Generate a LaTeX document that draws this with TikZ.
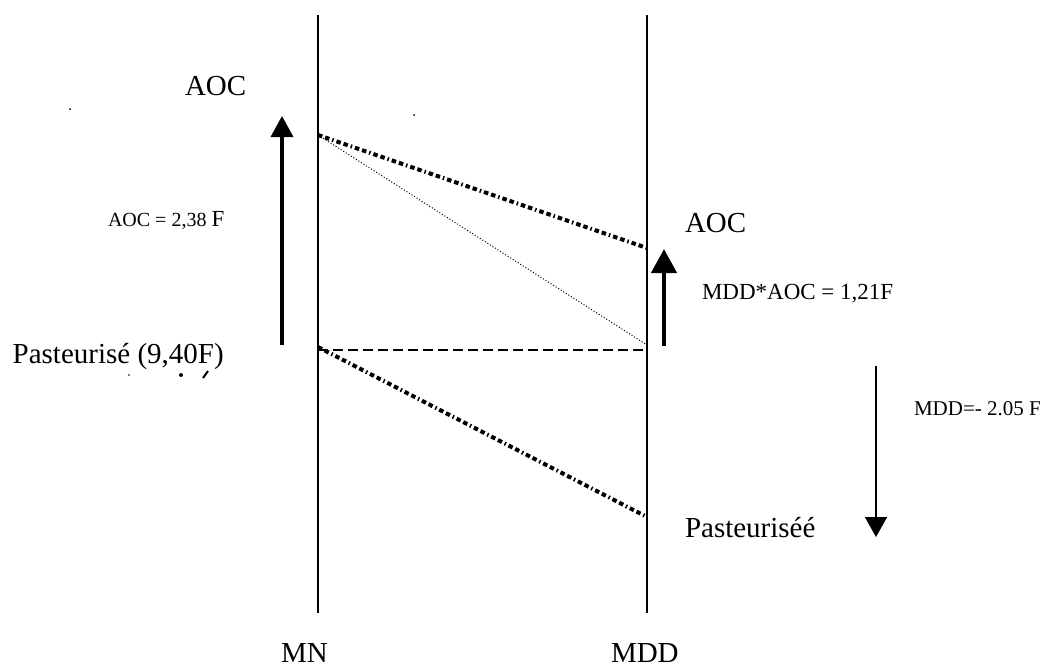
\documentclass[tikz,border=0pt]{standalone}
\usepackage{fontspec}
\setmainfont{Liberation Serif}
\usetikzlibrary{arrows.meta}
\tikzset{
  big/.style={inner sep=0pt, outer sep=0pt, anchor=base west, font=\fontsize{29}{32}\selectfont},
  small/.style={inner sep=0pt, outer sep=0pt, anchor=base west, font=\fontsize{21}{24}\selectfont},
  axis/.style={line width=1.3pt},
  dashdot/.style={line width=4pt, dash pattern=on 4.5pt off 3pt on 4.5pt off 3pt on 1.5pt off 3pt},
  thindot/.style={line width=1pt, dash pattern=on 1pt off 2pt},
  dashh/.style={line width=2.5pt, dash pattern=on 10pt off 5pt},
  fatarrow/.style={line width=3.5pt, -{Triangle[length=21pt,width=22pt]}},
  fatarrowb/.style={line width=4.5pt, -{Triangle[length=24pt,width=25pt]}},
  thinarrow/.style={line width=1.5pt, -{Triangle[length=20pt,width=22pt]}},
  speck/.style={fill=black, draw=none}
}
\begin{document}
\begin{tikzpicture}[x=1pt,y=-1pt]
\useasboundingbox (0,0) rectangle (1046,670);
% axes
\coordinate (mnTop) at (318,15);
\coordinate (mnBot) at (318,613);
\coordinate (mddTop) at (647,15);
\coordinate (mddBot) at (647,613);
\draw[axis] (mnTop) -- (mnBot);
\draw[axis] (mddTop) -- (mddBot);
% connection points
\coordinate (mnA) at (318,135);
\coordinate (mnP) at (318,347);
\coordinate (mnH) at (318,350);
\coordinate (mddA) at (647,248);
\coordinate (mddM) at (647,345);
\coordinate (mddH) at (647,350);
\coordinate (mddP) at (647,517);
\draw[dashdot] (mnA) -- (mddA);
\draw[thindot] (mnA) -- (mddM);
\draw[dashh] (mnH) -- (mddH);
\draw[dashdot] (mnP) -- (mddP);
% arrows
\coordinate (la0) at (282,345);
\coordinate (la1) at (282,116);
\draw[fatarrow] (la0) -- (la1);
\coordinate (ra0) at (664,346);
\coordinate (ra1) at (664,249);
\draw[fatarrowb] (ra0) -- (ra1);
\coordinate (da0) at (876,366);
\coordinate (da1) at (876,537);
\draw[thinarrow] (da0) -- (da1);
% texts
\node[big] (aocL) at (185,95) {AOC};
\node[big] (aocR) at (685,232) {AOC};
\node[big] (pastL) at (12.7,363) {Pasteurisé (9,40F)};
\node[big] (pastR) at (685,537) {Pasteuriséé};
\node[big] (mn) at (281,662) {MN};
\node[big] (mdd) at (611,662) {MDD};
\node[small, font=\fontsize{20}{24}\selectfont] (aoceq) at (108,226) {AOC = 2,38 {\fontsize{23}{24}\selectfont F}};
\node[small, font=\fontsize{23}{26}\selectfont] (mddaoc) at (702,299) {MDD*AOC = 1,21F};
\node[small] (mddeq) at (914,415) {MDD=- 2.05 F};
% specks
\fill[speck] (70,109) circle (1pt);
\fill[speck] (414,115) circle (1pt);
\fill[speck] (129,375) circle (0.9pt);
\fill[speck] (181,375) circle (2pt);
\draw[line width=2pt] (203,378) -- (208,371);
\end{tikzpicture}
\end{document}
